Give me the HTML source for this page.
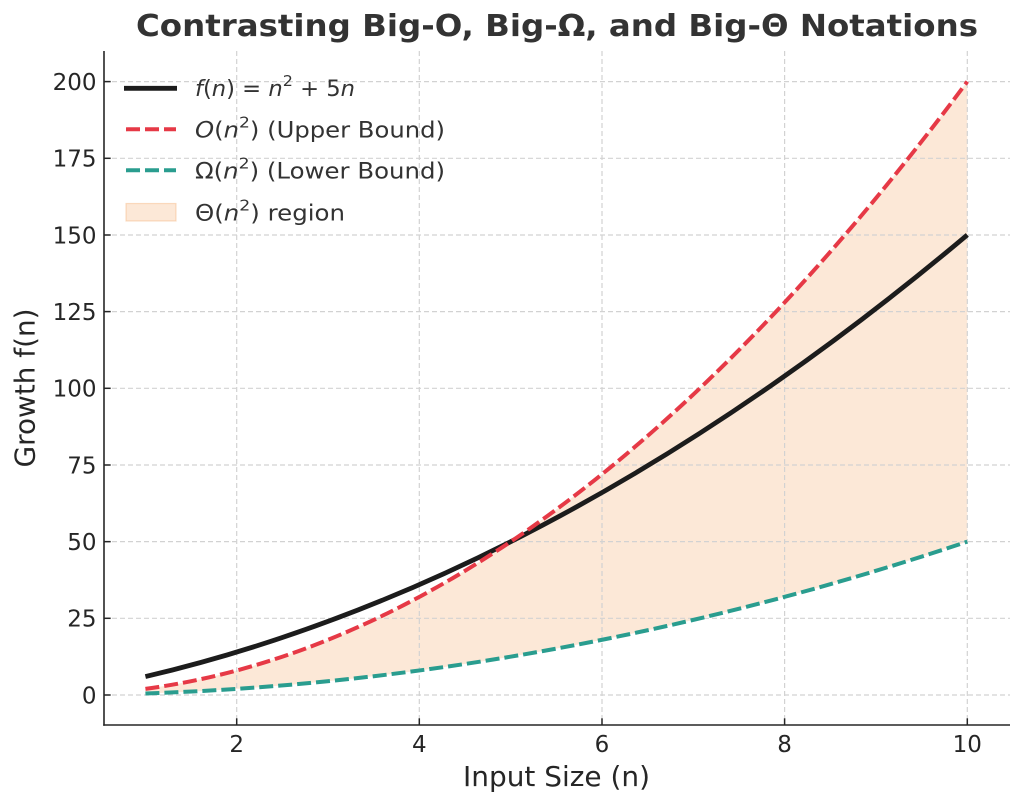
<!DOCTYPE html>
<html>
<head>
<meta charset="utf-8">
<style>
  html, body { margin: 0; padding: 0; background: #ffffff; }
  svg { display: block; }
  text { font-family: "DejaVu Sans", "Liberation Sans", sans-serif; }
</style>
</head>
<body>
<svg width="1024" height="807" viewBox="0 0 1024 807" xmlns="http://www.w3.org/2000/svg">
  <rect x="0" y="0" width="1024" height="807" fill="#ffffff"/>

  <!-- Fill region between bounds -->
  <path d="M145.42,688.87 Q556.36,633.66 967.3,81.6 L967.3,541.65 Q556.36,679.67 145.42,693.47 Z"
        fill="#f4a261" fill-opacity="0.25" stroke="none"/>

  <!-- Grid -->
  <g stroke="#d2d2d2" stroke-width="1.2" stroke-dasharray="5,3" fill="none">
    <line x1="236.7" y1="51" x2="236.7" y2="725"/>
    <line x1="419.3" y1="51" x2="419.3" y2="725"/>
    <line x1="602" y1="51" x2="602" y2="725"/>
    <line x1="784.6" y1="51" x2="784.6" y2="725"/>
    <line x1="967.3" y1="51" x2="967.3" y2="725"/>
    <line x1="104" y1="695" x2="1010" y2="695"/>
    <line x1="104" y1="618.3" x2="1010" y2="618.3"/>
    <line x1="104" y1="541.65" x2="1010" y2="541.65"/>
    <line x1="104" y1="465" x2="1010" y2="465"/>
    <line x1="104" y1="388.3" x2="1010" y2="388.3"/>
    <line x1="104" y1="311.6" x2="1010" y2="311.6"/>
    <line x1="104" y1="235" x2="1010" y2="235"/>
    <line x1="104" y1="158.3" x2="1010" y2="158.3"/>
    <line x1="104" y1="81.6" x2="1010" y2="81.6"/>
  </g>

  <!-- Curves -->
  <path d="M145.42,676.6 Q556.36,580.0 967.3,234.95" fill="none" stroke="#1c1c1c" stroke-width="4.8" stroke-linecap="butt"/>
  <path d="M145.42,688.87 Q556.36,633.66 967.3,81.6" fill="none" stroke="#e63946" stroke-width="4" stroke-dasharray="14,5"/>
  <path d="M145.42,693.47 Q556.36,679.67 967.3,541.65" fill="none" stroke="#2a9d8f" stroke-width="4" stroke-dasharray="14,5"/>

  <!-- Spines -->
  <g stroke="#262626" stroke-width="1.6" fill="none">
    <line x1="104" y1="51" x2="104" y2="725.8"/>
    <line x1="103.2" y1="725" x2="1010" y2="725"/>
  </g>

  <!-- Ticks (inward) -->
  <g stroke="#262626" stroke-width="1.5">
    <line x1="236.7" y1="725" x2="236.7" y2="718.3"/>
    <line x1="419.3" y1="725" x2="419.3" y2="718.3"/>
    <line x1="602" y1="725" x2="602" y2="718.3"/>
    <line x1="784.6" y1="725" x2="784.6" y2="718.3"/>
    <line x1="967.3" y1="725" x2="967.3" y2="718.3"/>
    <line x1="104" y1="695" x2="110.7" y2="695"/>
    <line x1="104" y1="618.3" x2="110.7" y2="618.3"/>
    <line x1="104" y1="541.65" x2="110.7" y2="541.65"/>
    <line x1="104" y1="465" x2="110.7" y2="465"/>
    <line x1="104" y1="388.3" x2="110.7" y2="388.3"/>
    <line x1="104" y1="311.6" x2="110.7" y2="311.6"/>
    <line x1="104" y1="235" x2="110.7" y2="235"/>
    <line x1="104" y1="158.3" x2="110.7" y2="158.3"/>
    <line x1="104" y1="81.6" x2="110.7" y2="81.6"/>
  </g>

  <!-- X tick labels -->
  <g font-size="23" fill="#262626" text-anchor="middle">
    <text x="236.7" y="752">2</text>
    <text x="419.3" y="752">4</text>
    <text x="602" y="752">6</text>
    <text x="784.6" y="752">8</text>
    <text x="967.3" y="752">10</text>
  </g>

  <!-- Y tick labels -->
  <g font-size="23" fill="#262626" text-anchor="end">
    <text x="96.5" y="703.4">0</text>
    <text x="96.5" y="626.7">25</text>
    <text x="96.5" y="550">50</text>
    <text x="96.5" y="473.4">75</text>
    <text x="96.5" y="396.7">100</text>
    <text x="96.5" y="320">125</text>
    <text x="96.5" y="243.4">150</text>
    <text x="96.5" y="166.7">175</text>
    <text x="96.5" y="90">200</text>
  </g>

  <!-- Axis labels -->
  <text x="556.5" y="786" font-size="27.5" fill="#262626" text-anchor="middle" textLength="187" lengthAdjust="spacingAndGlyphs">Input Size (n)</text>
  <text transform="translate(34.5,388) rotate(-90)" font-size="27.5" fill="#262626" text-anchor="middle" textLength="159" lengthAdjust="spacingAndGlyphs">Growth f(n)</text>

  <!-- Title -->
  <text x="557" y="36" font-size="30" font-weight="bold" fill="#333333" text-anchor="middle" textLength="842" lengthAdjust="spacingAndGlyphs">Contrasting Big-O, Big-Ω, and Big-Θ Notations</text>

  <!-- Legend -->
  <line x1="124" y1="88.3" x2="177" y2="88.3" stroke="#1c1c1c" stroke-width="4.8"/>
  <line x1="126" y1="129.3" x2="176" y2="129.3" stroke="#e63946" stroke-width="4" stroke-dasharray="14,5"/>
  <line x1="126" y1="170.3" x2="176" y2="170.3" stroke="#2a9d8f" stroke-width="4" stroke-dasharray="14,5"/>
  <rect x="126" y="203.5" width="50" height="17.5" fill="#f4a261" fill-opacity="0.25" stroke="#f4a261" stroke-opacity="0.35" stroke-width="1.2"/>

  <g font-size="22" fill="#333333">
    <text x="195" y="96" textLength="160" lengthAdjust="spacingAndGlyphs"><tspan font-style="italic">f</tspan>(<tspan font-style="italic">n</tspan>) = <tspan font-style="italic">n</tspan><tspan font-size="15.5" dy="-10">2</tspan><tspan dy="10"> + 5</tspan><tspan font-style="italic">n</tspan></text>
    <text x="195" y="137.5" textLength="250" lengthAdjust="spacingAndGlyphs"><tspan font-style="italic">O</tspan>(<tspan font-style="italic">n</tspan><tspan font-size="15.5" dy="-10">2</tspan><tspan dy="10">) (Upper Bound)</tspan></text>
    <text x="195" y="178.5" textLength="250" lengthAdjust="spacingAndGlyphs">Ω(<tspan font-style="italic">n</tspan><tspan font-size="15.5" dy="-10">2</tspan><tspan dy="10">) (Lower Bound)</tspan></text>
    <text x="195" y="220.5" textLength="150" lengthAdjust="spacingAndGlyphs">Θ(<tspan font-style="italic">n</tspan><tspan font-size="15.5" dy="-10">2</tspan><tspan dy="10">) region</tspan></text>
  </g>
</svg>
</body>
</html>
